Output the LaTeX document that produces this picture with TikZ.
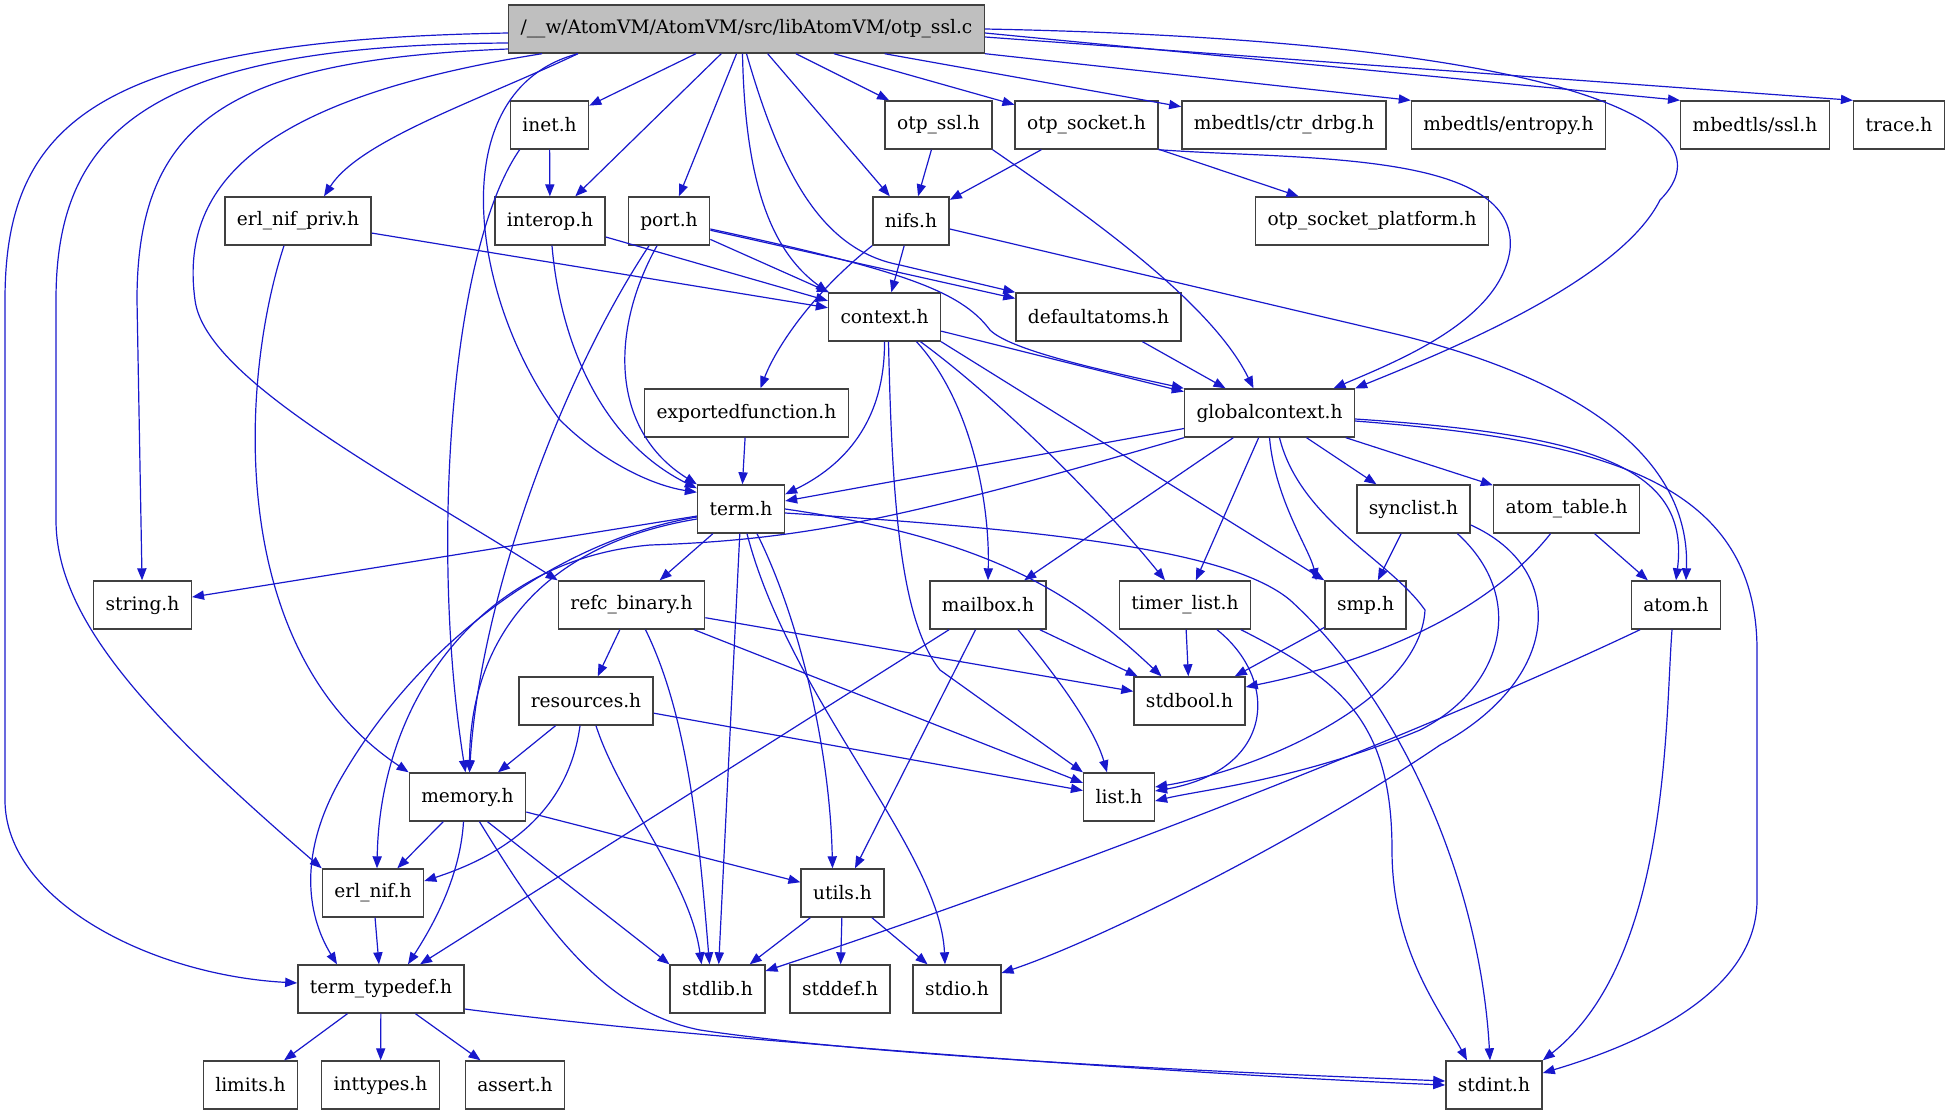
\documentclass[tikz,border=0pt]{standalone}
\usepackage{fontspec}
\setmainfont{DejaVu Serif}
\usetikzlibrary{arrows.meta}
\definecolor{incblue}{RGB}{24,24,204}

\begin{document}
\begin{tikzpicture}[x=0.5pt,y=-0.5pt,
    hdr/.style={draw=black!75,line width=0.7pt,fill=white,minimum height=24pt,
      inner xsep=6pt,inner ysep=0pt,font=\fontsize{9.3}{11}\selectfont},
    cfile/.style={hdr,fill=black!25},
    inc/.style={->,draw=incblue,line width=0.6pt}]
  \tikzset{>={Triangle[length=6pt,width=4.6pt]}}
  \useasboundingbox (0,0) rectangle (1949,1115);
  % the source file
  \node[cfile] (otpsslc) at (746.5,29) {/\_\_w/AtomVM/AtomVM/src/libAtomVM/otp\_ssl.c};
  % headers, row by row
  \node[hdr] (inet) at (549.5,125) {inet.h};
  \node[hdr] (otpssl) at (938.5,125) {otp\_ssl.h};
  \node[hdr] (otpsocket) at (1086.5,125) {otp\_socket.h};
  \node[hdr] (ctrdrbg) at (1284,125) {mbedtls/ctr\_drbg.h};
  \node[hdr] (entropy) at (1508.5,125) {mbedtls/entropy.h};
  \node[hdr] (mbedssl) at (1755,125) {mbedtls/ssl.h};
  \node[hdr] (trace) at (1899,125) {trace.h};
  \node[hdr] (erlnifpriv) at (298,221) {erl\_nif\_priv.h};
  \node[hdr] (interop) at (550,221) {interop.h};
  \node[hdr] (port) at (669,221) {port.h};
  \node[hdr] (nifs) at (911,221) {nifs.h};
  \node[hdr] (platform) at (1372,221) {otp\_socket\_platform.h};
  \node[hdr] (context) at (884.5,317) {context.h};
  \node[hdr] (defaultatoms) at (1098.5,317) {defaultatoms.h};
  \node[hdr] (exportedfunction) at (746.5,413) {exportedfunction.h};
  \node[hdr] (globalcontext) at (1269.5,413) {globalcontext.h};
  \node[hdr] (term) at (741,509) {term.h};
  \node[hdr] (synclist) at (1413.5,509) {synclist.h};
  \node[hdr] (atomtable) at (1566.5,509) {atom\_table.h};
  \node[hdr] (string) at (142.5,605) {string.h};
  \node[hdr] (refc) at (631.5,605) {refc\_binary.h};
  \node[hdr] (mailbox) at (988,605) {mailbox.h};
  \node[hdr] (timerlist) at (1185,605) {timer\_list.h};
  \node[hdr] (smp) at (1365.5,605) {smp.h};
  \node[hdr] (atom) at (1676,605) {atom.h};
  \node[hdr] (resources) at (586,701) {resources.h};
  \node[hdr] (stdbool) at (1189.5,701) {stdbool.h};
  \node[hdr] (memory) at (467.5,797) {memory.h};
  \node[hdr] (list) at (1119,797) {list.h};
  \node[hdr] (erlnif) at (373,893) {erl\_nif.h};
  \node[hdr] (utils) at (842.5,893) {utils.h};
  \node[hdr] (termtypedef) at (381,989) {term\_typedef.h};
  \node[hdr] (stdlib) at (717.5,989) {stdlib.h};
  \node[hdr] (stddef) at (840,989) {stddef.h};
  \node[hdr] (stdio) at (957,989) {stdio.h};
  \node[hdr] (limits) at (250.5,1085) {limits.h};
  \node[hdr] (inttypes) at (380.5,1085) {inttypes.h};
  \node[hdr] (assert) at (515,1085) {assert.h};
  \node[hdr] (stdint) at (1494,1085) {stdint.h};

  % straight includes
  \path (otpsslc) edge[inc] (inet) edge[inc] (otpssl) edge[inc] (otpsocket)
    edge[inc] (ctrdrbg) edge[inc] (interop) edge[inc] (port) edge[inc] (nifs);
  \path (otpsslc.south east) edge[inc] (entropy.north west);
  \path ([yshift=-2pt]otpsslc.east) edge[inc] (mbedssl.north west);
  \path ([yshift=-4pt]otpsslc.east) edge[inc] (trace.north west);
  \path (inet) edge[inc] (interop);
  \path (otpssl) edge[inc] (nifs);
  \path (otpsocket) edge[inc] (nifs) edge[inc] (platform);
  \path (erlnifpriv) edge[inc] (context);
  \path (interop) edge[inc] (context);
  \path (port) edge[inc] (context) edge[inc] (defaultatoms);
  \path (nifs) edge[inc] (context);
  \path (context) edge[inc] (globalcontext);
  \path (context.south east) edge[inc] (smp.north west);
  \path (defaultatoms) edge[inc] (globalcontext);
  \path (exportedfunction) edge[inc] (term);
  \path (globalcontext) edge[inc] (term) edge[inc] (mailbox) edge[inc] (timerlist)
    edge[inc] (synclist) edge[inc] (atomtable);
  \path (term) edge[inc] (string) edge[inc] (refc) edge[inc] (stdlib);
  \path (refc) edge[inc] (resources) edge[inc] (list) edge[inc] (stdbool);
  \path (resources) edge[inc] (memory) edge[inc] (list);
  \path (mailbox) edge[inc] (termtypedef) edge[inc] (utils) edge[inc] (stdbool);
  \path (timerlist) edge[inc] (stdbool);
  \path (smp) edge[inc] (stdbool);
  \path (synclist) edge[inc] (smp);
  \path (atomtable) edge[inc] (atom);
  \path (memory) edge[inc] (erlnif) edge[inc] (utils);
  \path ([xshift=10pt]memory.south) edge[inc] (stdlib.north west);
  \path (erlnif) edge[inc] (termtypedef);
  \path (utils) edge[inc] (stdlib) edge[inc] (stddef) edge[inc] (stdio);
  \path (termtypedef) edge[inc] (limits) edge[inc] (inttypes) edge[inc] (assert);

  % curved includes from the source file
  \draw[inc] (otpsslc.east) .. controls (1550,40) and (1740,120) .. (1660,200)
    .. controls (1620,280) and (1450,350) .. (globalcontext.north east);
  \draw[inc] ([xshift=-2pt]otpsslc.south) .. controls (745,180) and (770,250) .. (context.north west);
  \draw[inc] (otpsslc.south) .. controls (780,170) and (820,250) .. (900,265) -- (defaultatoms.north west);
  \draw[inc] ([xshift=35pt]otpsslc.south west) .. controls (480,100) and (360,140) .. ([xshift=13pt]erlnifpriv.north);
  \draw[inc] ([xshift=35pt]otpsslc.south west) .. controls (440,90) and (470,300) .. (560,420)
    .. controls (600,460) and (650,485) .. ([yshift=-4pt]term.north west);
  \draw[inc] ([xshift=17pt]otpsslc.south west) .. controls (250,100) and (180,190) .. (195,300)
    .. controls (205,380) and (400,480) .. (refc.north west);
  \draw[inc] ([yshift=-10pt]otpsslc.west) .. controls (230,60) and (137,120) .. (137,300) -- (string);
  \draw[inc] ([yshift=-7pt]otpsslc.west) .. controls (150,45) and (56,130) .. (56,300) -- (56,520)
    .. controls (56,620) and (150,720) .. (erlnif.north west);
  \draw[inc] ([yshift=-2pt]otpsslc.west) .. controls (100,40) and (5,120) .. (5,300) -- (5,800)
    .. controls (5,900) and (150,975) .. ([yshift=3pt]termtypedef.west);

  % curved includes between headers
  \draw[inc] ([xshift=5pt]inet.south west) .. controls (450,250) and (430,550) .. ([xshift=-1pt]memory.north);
  \draw[inc] (otpssl.south east) .. controls (1080,210) and (1210,300) .. ([xshift=-8pt]globalcontext.north);
  \draw[inc] (otpsocket.south east) .. controls (1300,160) and (1520,150) .. (1510,250)
    .. controls (1500,320) and (1400,360) .. ([xshift=32pt]globalcontext.north);
  \draw[inc] ([xshift=-7pt]erlnifpriv.south) .. controls (240,380) and (225,650) .. (memory.north west);
  \draw[inc] ([xshift=1pt]interop.south) .. controls (560,340) and (600,440) .. ([yshift=-2pt]term.north west);
  \draw[inc] ([xshift=-6pt]port.south) .. controls (610,330) and (610,430) .. (term.north west);
  \draw[inc] ([xshift=-10pt]port.south) .. controls (560,380) and (480,600) .. ([xshift=1pt]memory.north);
  \draw[inc] ([yshift=-4pt]port.east) .. controls (900,270) and (960,290) .. (990,330)
    .. controls (1010,350) and (1100,370) .. (globalcontext.north west);
  \draw[inc] (nifs.south west) .. controls (810,295) and (775,350) .. ([xshift=7pt]exportedfunction.north);
  \draw[inc] ([yshift=-4pt]nifs.east) -- (1400,335) .. controls (1620,390) and (1690,480) .. ([xshift=5pt]atom.north);
  \draw[inc] (context.south) .. controls (885,430) and (835,470) .. ([yshift=-5pt]term.north east);
  \draw[inc] ([xshift=2pt]context.south) .. controls (892,500) and (900,620) .. (940,670) -- (list.north west);
  \draw[inc] ([xshift=16pt]context.south) .. controls (970,400) and (990,500) .. (mailbox.north);
  \draw[inc] ([xshift=18pt]context.south) .. controls (1000,400) and (1100,500) .. ([xshift=-10pt]timerlist.north);
  \draw[inc] (globalcontext.south west) .. controls (900,520) and (800,540) .. (650,545)
    .. controls (480,560) and (380,700) .. ([xshift=2pt]erlnif.north);
  \draw[inc] (globalcontext.south) .. controls (1275,500) and (1310,550) .. ([xshift=-4pt]smp.north west);
  \draw[inc] ([xshift=5pt]globalcontext.south) .. controls (1300,520) and (1390,560) .. (1425,610)
    .. controls (1420,700) and (1260,770) .. ([yshift=5pt]list.east);
  \draw[inc] ([yshift=-3pt]globalcontext.east) .. controls (1600,435) and (1690,470) .. (atom.north);
  \draw[inc] ([yshift=-4pt]globalcontext.east) .. controls (1600,440) and (1757,480) .. (1757,650)
    -- (1757,900) .. controls (1757,1000) and (1620,1050) .. ([yshift=6pt]stdint.east);
  \draw[inc] ([yshift=-5pt]term.west) .. controls (540,545) and (470,640) .. ([xshift=1pt]memory.north);
  \draw[inc] ([yshift=-4pt]term.west) .. controls (560,540) and (420,640) .. (340,780)
    .. controls (295,860) and (310,920) .. ([xshift=-22pt]termtypedef.north);
  \draw[inc] ([xshift=8pt]term.south) .. controls (800,620) and (830,750) .. ([xshift=-5pt]utils.north);
  \draw[inc] ([xshift=3pt]term.south) .. controls (790,700) and (940,850) .. ([xshift=-6pt]stdio.north);
  \draw[inc] (term.east) .. controls (1000,540) and (1080,600) .. ([xshift=-14pt]stdbool.north);
  \draw[inc] ([yshift=-2pt]term.east) .. controls (1050,530) and (1230,550) .. (1290,600)
    .. controls (1400,700) and (1480,880) .. ([xshift=-2pt]stdint.north);
  \draw[inc] ([xshift=7pt]refc.south) .. controls (690,720) and (700,850) .. ([xshift=-4pt]stdlib.north);
  \draw[inc] ([xshift=-3pt]resources.south) .. controls (570,800) and (520,850) .. ([yshift=6pt]erlnif.east);
  \draw[inc] ([xshift=5pt]resources.south) .. controls (620,800) and (690,880) .. ([xshift=-8pt]stdlib.north);
  \draw[inc] ([xshift=15pt]mailbox.south) .. controls (1060,680) and (1095,730) .. ([xshift=-6pt]list.north);
  \draw[inc] ([xshift=16pt]timerlist.south) .. controls (1280,680) and (1275,770) .. ([yshift=3pt]list.east);
  \draw[inc] ([xshift=28pt]timerlist.south) .. controls (1340,680) and (1392,720) .. (1392,850)
    .. controls (1392,950) and (1440,1010) .. ([xshift=-13.5pt]stdint.north);
  \draw[inc] ([xshift=22pt]synclist.south) .. controls (1530,600) and (1500,690) .. (1420,730)
    .. controls (1300,780) and (1200,790) .. ([yshift=-2pt]list.east);
  \draw[inc] ([yshift=-8pt]synclist.east) .. controls (1570,570) and (1560,680) .. (1440,745)
    .. controls (1300,840) and (1100,940) .. ([yshift=8pt]stdio.east);
  \draw[inc] ([xshift=-8pt]atomtable.south) .. controls (1490,610) and (1380,660) .. ([yshift=7pt]stdbool.east);
  \draw[inc] ([xshift=-18pt]atom.south) .. controls (1450,720) and (1100,860) .. ([yshift=9pt]stdlib.east);
  \draw[inc] ([xshift=-2pt]atom.south) .. controls (1665,720) and (1670,960) .. (stdint.north east);
  \draw[inc] ([xshift=-2pt]memory.south) .. controls (460,880) and (430,930) .. ([xshift=13.5pt]termtypedef.north);
  \draw[inc] ([xshift=6pt]memory.south) .. controls (540,920) and (600,1010) .. (700,1030)
    .. controls (900,1060) and (1300,1075) .. ([yshift=2pt]stdint.west);
  \draw[inc] ([yshift=-10pt]termtypedef.east) .. controls (700,1040) and (1200,1075) .. (stdint.west);
\end{tikzpicture}
\end{document}
